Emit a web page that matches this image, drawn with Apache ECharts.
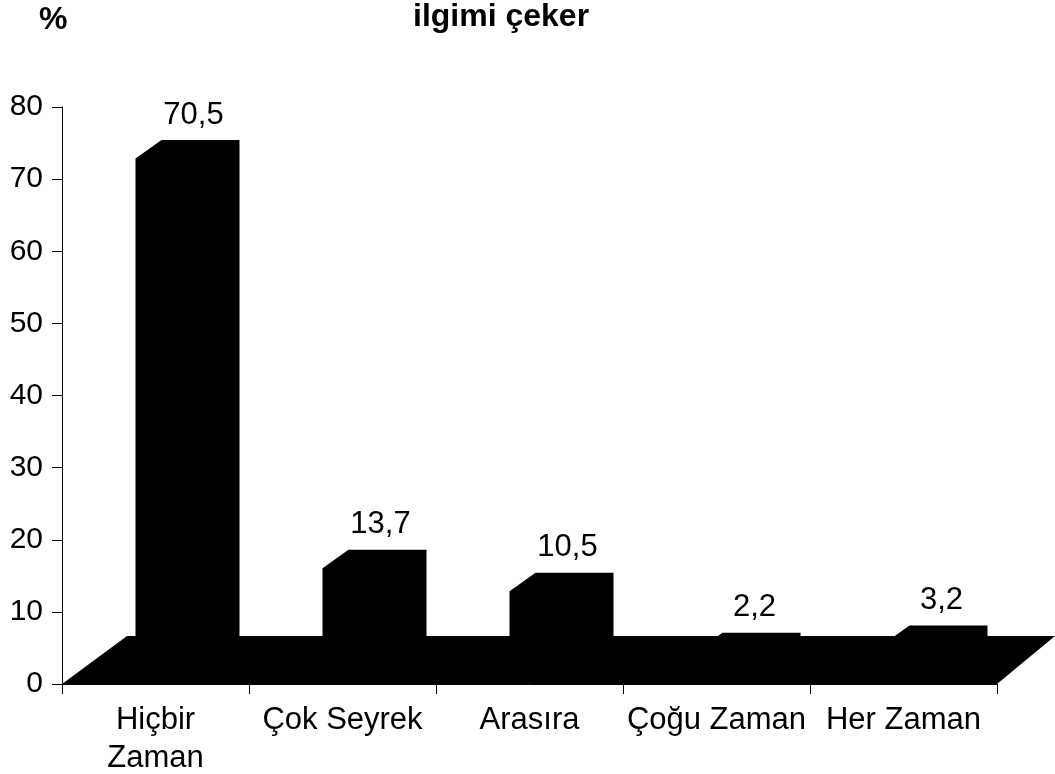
<!DOCTYPE html>
<html>
<head>
<meta charset="utf-8">
<script src="https://cdn.jsdelivr.net/npm/echarts@6/dist/echarts.min.js"></script>
<style>html,body{margin:0;padding:0;background:#fff}#c{width:1055px;height:774px}</style>
</head>
<body>
<div id="c"></div>
<script>
const categories = ['Hiçbir\nZaman', 'Çok Seyrek', 'Arasıra', 'Çoğu Zaman', 'Her Zaman'];
const values = [70.5, 13.7, 10.5, 2.2, 3.2];
const yTicks = [0, 10, 20, 30, 40, 50, 60, 70, 80];
const yTitle = '%';
const chartTitle = 'ilgimi çeker';

const FONT = '"Liberation Sans", Arial, sans-serif';
const chart = echarts.init(document.getElementById('c'));

function fmt(v) { return String(v).replace('.', ','); }

function renderBar(params, api) {
  const idx = api.value(0);
  const v = api.value(1);
  const base = api.coord([idx, 0]);
  const top = api.coord([idx, v]);
  const c = base[0];
  const y0 = base[1];
  const yt = top[1] - 17;
  const yb = y0 - 10;
  const xl = c - 20, xr = c + 58;
  const dx = 26, dy = 18.5;
  return {
    type: 'group',
    children: [
      {
        type: 'polygon',
        shape: { points: [[xl, yb], [xl, yt], [xl + dx, yt - dy], [xr + dx, yt - dy], [xr + dx, yb - dy], [xr, yb]] },
        style: { fill: '#000' }
      },
      {
        type: 'text',
        style: {
          text: fmt(v), x: c + 38, y: yt - dy - 25,
          align: 'center', verticalAlign: 'middle',
          font: '31px ' + FONT, fill: '#000'
        }
      }
    ]
  };
}

function renderFloor(params, api) {
  const w = api.size([1, 0])[0];
  const first = api.coord([0, 0]);
  const last = api.coord([categories.length - 1, 0]);
  const x0 = first[0] - w / 2;
  const x1 = last[0] + w / 2;
  const y0 = first[1];
  return {
    type: 'polygon',
    shape: { points: [[x0, y0], [x0 + 65, y0 - 48], [x1 + 58, y0 - 48], [x1, y0]] },
    style: { fill: '#000' }
  };
}

chart.setOption({
  animation: false,
  backgroundColor: '#fff',
  title: [
    { text: yTitle, left: 39, top: 4, padding: 0, textStyle: { fontFamily: FONT, fontSize: 32, fontWeight: 'bold', color: '#000' } },
    { text: chartTitle, left: 413, top: 1, padding: 0, textStyle: { fontFamily: FONT, fontSize: 32, fontWeight: 'bold', color: '#000' } }
  ],
  grid: { left: 62, right: 58, top: 107, bottom: 90, containLabel: false, outerBoundsMode: 'none' },
  xAxis: {
    type: 'category',
    data: categories,
    boundaryGap: true,
    axisLine: { show: true, lineStyle: { color: '#000', width: 1 } },
    axisTick: { show: true, length: 10, lineStyle: { color: '#000', width: 1 } },
    axisLabel: { color: '#000', fontFamily: FONT, fontSize: 31, margin: 17, lineHeight: 38, interval: 0 },
    splitLine: { show: false }
  },
  yAxis: {
    type: 'value',
    min: yTicks[0],
    max: yTicks[yTicks.length - 1],
    interval: 10,
    axisLine: { show: true, lineStyle: { color: '#000', width: 1 } },
    axisTick: { show: true, length: 10, lineStyle: { color: '#000', width: 1 } },
    axisLabel: { color: '#000', fontFamily: FONT, fontSize: 30, margin: 19 },
    splitLine: { show: false }
  },
  series: [
    {
      type: 'custom',
      renderItem: renderFloor,
      data: [[0, 0]],
      encode: { x: 0, y: 1 },
      clip: false,
      z: 1
    },
    {
      type: 'custom',
      renderItem: renderBar,
      data: values.map((v, i) => [i, v]),
      encode: { x: 0, y: 1 },
      clip: false,
      z: 2
    }
  ]
});
</script>
</body>
</html>
